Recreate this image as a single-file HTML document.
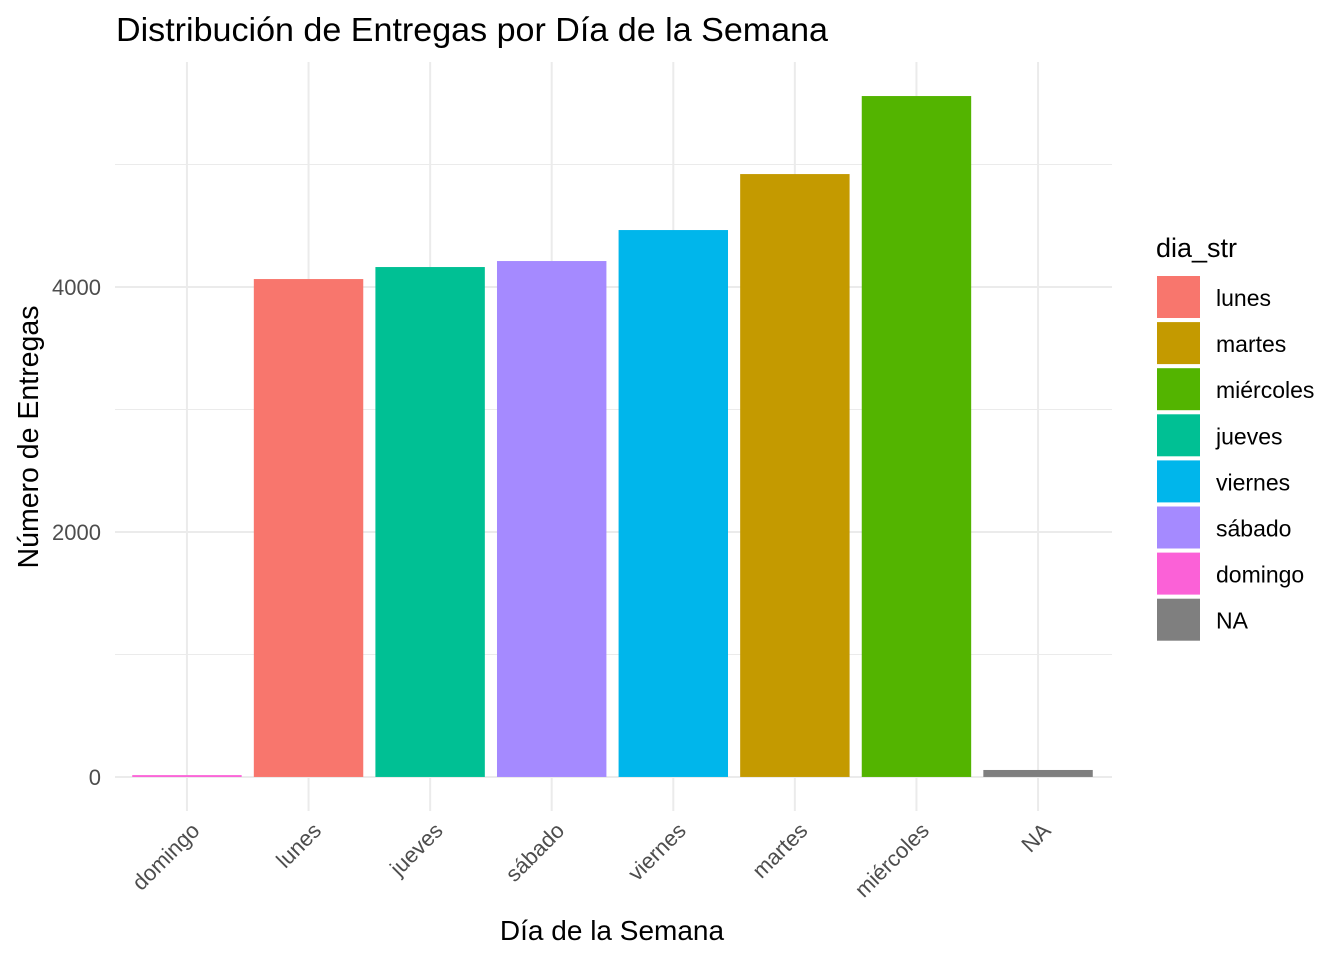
<!DOCTYPE html>
<html><head><meta charset="utf-8"><style>
body{margin:0;background:#fff;font-family:"Liberation Sans",sans-serif}
</style></head><body>
<svg id="chart" width="1344" height="960" xmlns="http://www.w3.org/2000/svg" font-family="Liberation Sans, sans-serif">
<text x="116" y="41" font-size="33" textLength="712" lengthAdjust="spacingAndGlyphs" fill="#000">Distribución de Entregas por Día de la Semana</text>
<g id="grid"></g><g id="bars"></g><g id="xt"></g><g id="yt"></g>
<text x="612" y="940" font-size="28" text-anchor="middle">Día de la Semana</text>
<text transform="translate(38,437) rotate(-90)" font-size="28.5" text-anchor="middle">Número de Entregas</text>
<g id="legend">
<text x="1156" y="257" font-size="27">dia_str</text>
</g>
</svg>
<script>
const categories=["domingo","lunes","jueves","sábado","viernes","martes","miércoles","NA"];
const values=[15,4065,4163,4212,4465,4922,5559,57];
const colors=["#FB61D7","#F8766D","#00C094","#A58AFF","#00B6EB","#C49A00","#53B400","#7F7F7F"];
const yTicks=[0,2000,4000];
const yMinor=[1000,3000,5000];
const legendLabels=["lunes","martes","miércoles","jueves","viernes","sábado","domingo","NA"];
const legendColors=["#F8766D","#C49A00","#53B400","#00C094","#00B6EB","#A58AFF","#FB61D7","#7F7F7F"];
const NS="http://www.w3.org/2000/svg";
const L=115,R=1112,T=62,B=811;
const ymax=Math.max(...values),ylo=-ymax*0.05,yhi=ymax*1.05;
const y=v=>B-(v-ylo)/(yhi-ylo)*(B-T);
const step=(R-L)/(categories.length-1+1.2);
const x=i=>L+(0.6+i)*step-1;
function mk(tag,a,p){const e=document.createElementNS(NS,tag);for(const k in a)e.setAttribute(k,a[k]);p.appendChild(e);return e;}
const g=document.getElementById('grid');
yMinor.forEach(v=>{const l=mk('line',{x1:L,x2:R,y1:y(v),y2:y(v),stroke:'#ebebeb','stroke-width':1},g);

});
yTicks.forEach(v=>{const l=mk('line',{x1:L,x2:R,y1:y(v),y2:y(v),stroke:'#ebebeb','stroke-width':2},g);


const t=mk('text',{x:101,y:y(v)+8,'font-size':22,fill:'#4d4d4d','text-anchor':'end'},document.getElementById('yt'));t.textContent=v;

});
categories.forEach((c,i)=>{const l=mk('line',{x1:x(i),x2:x(i),y1:T,y2:B,stroke:'#ebebeb','stroke-width':2},g);


const w=step*0.9;
const r=mk('rect',{x:x(i)-w/2,y:y(values[i]),width:w,height:Math.max(1,y(0)-y(values[i])),fill:colors[i]},document.getElementById('bars'));


const t=mk('text',{transform:`translate(${x(i)+14},${832}) rotate(-45)`,'font-size':22,fill:'#4d4d4d','text-anchor':'end'},document.getElementById('xt'));t.textContent=c;

});
const lg=document.getElementById('legend');
legendLabels.forEach((c,i)=>{const yy=276+i*46.1;
const r=mk('rect',{x:1157,y:yy,width:43,height:42,fill:legendColors[i]},lg);


const t=mk('text',{x:1216,y:yy+30,'font-size':23,fill:'#000'},lg);t.textContent=c;

});
</script>
</body></html>
